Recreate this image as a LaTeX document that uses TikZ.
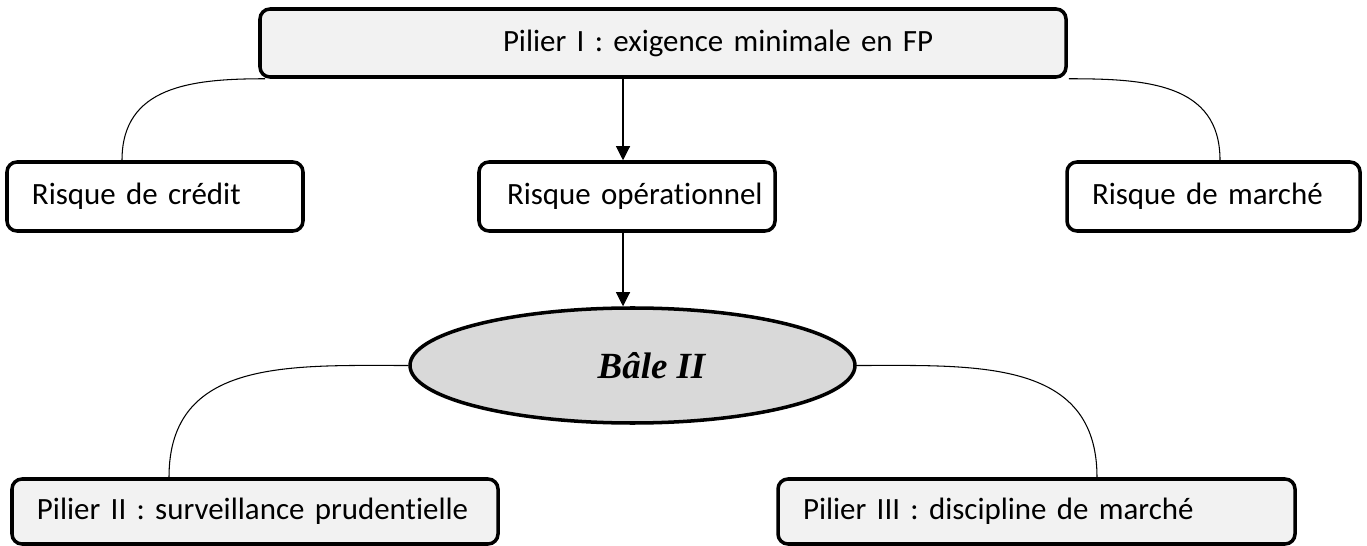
\documentclass[tikz,border=0pt]{standalone}
\usepackage{fontspec}
\setmainfont{Carlito}[Ligatures=NoCommon, WordSpace=0.8]
\newfontfamily\baleFont{Liberation Serif}
\usetikzlibrary{shapes.geometric,arrows.meta}
\definecolor{boxGray}{HTML}{F2F2F2}
\definecolor{ellGray}{HTML}{D9D9D9}

\begin{document}
\begin{tikzpicture}[
	boite/.style={draw, line width=2pt, rounded corners=0.2cm, inner xsep=0.1cm, inner ysep=0pt, align=left, font=\fontsize{17.6}{21}\selectfont},
	lien/.style={line width=0.6pt, looseness=1.15},
	fleche/.style={line width=0.6pt, -{Triangle[width=0.28cm,length=0.28cm]}}
	]
	\useasboundingbox (0,0) rectangle (27.34,-10.92);
	\node[boite, fill=boxGray, text width=15.92cm, minimum height=1.36cm] (pilier1) at (13.26,-0.86) {\hspace*{4.76cm}Pilier I : exigence minimale en FP};
	\node[boite, fill=white, text width=5.72cm, minimum height=1.38cm] (credit) at (3.1,-3.93) {\hspace*{0.4cm}Risque de crédit};
	\node[boite, fill=white, text width=5.72cm, minimum height=1.38cm] (operationnel) at (12.54,-3.93) {\hspace*{0.46cm}Risque opérationnel};
	\node[boite, fill=white, text width=5.66cm, minimum height=1.38cm] (marche) at (24.27,-3.93) {\hspace*{0.4cm}Risque de marché};
	\node[draw, line width=2pt, ellipse, fill=ellGray, minimum width=8.9cm, minimum height=2.3cm, inner sep=0pt, font=\baleFont\fontsize{21}{25}\selectfont\bfseries\itshape] (bale) at (12.65,-7.31) {\hspace*{0.76cm}Bâle II};
	\node[boite, fill=boxGray, text width=9.52cm, minimum height=1.3cm] (pilier2) at (5.1,-10.23) {\hspace*{0.4cm}Pilier II : surveillance prudentielle};
	\node[boite, fill=boxGray, text width=10.14cm, minimum height=1.3cm] (pilier3) at (20.73,-10.23) {\hspace*{0.4cm}Pilier III : discipline de marché};
	\coordinate (axe) at (12.46,0);
	\draw[fleche] (pilier1.south -| axe) -- (operationnel.north -| axe);
	\draw[fleche] (operationnel.south -| axe) -- (bale.north -| axe);
	\draw[lien] ([xshift=0.14cm]pilier1.south west) to[out=180,in=90] ([xshift=-0.66cm]credit.north);
	\draw[lien] ([xshift=0.02cm]pilier1.south east) to[out=0,in=90] ([xshift=0.13cm]marche.north);
	\draw[lien] (bale.west) to[out=180,in=90] ([xshift=-1.72cm]pilier2.north);
	\draw[lien] (bale.east) to[out=0,in=90] ([xshift=1.21cm]pilier3.north);
\end{tikzpicture}
\end{document}
